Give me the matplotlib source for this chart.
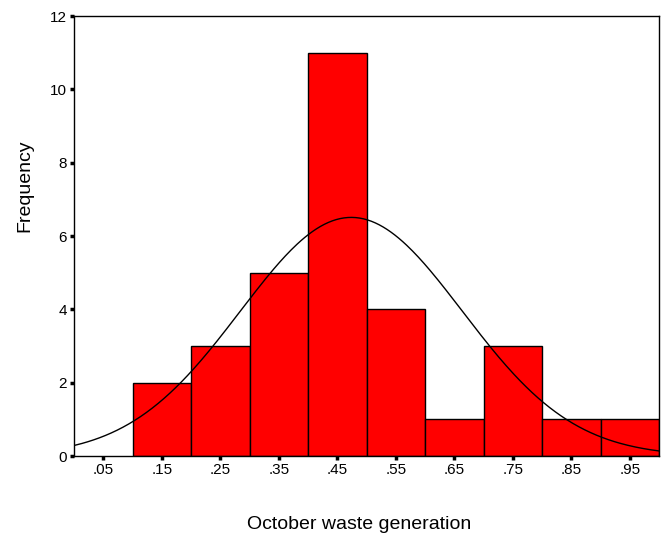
import numpy as np
import matplotlib.pyplot as plt

plt.rcParams['font.family'] = ['Liberation Sans', 'DejaVu Sans']

# histogram data
bin_edges = [0.1, 0.2, 0.3, 0.4, 0.5, 0.6, 0.7, 0.8, 0.9, 1.0]
counts = [2, 3, 5, 11, 4, 1, 3, 1, 1]
tick_pos = [0.05, 0.15, 0.25, 0.35, 0.45, 0.55, 0.65, 0.75, 0.85, 0.95]
tick_labels = ['.05', '.15', '.25', '.35', '.45', '.55', '.65', '.75', '.85', '.95']

# normal curve parameters
mean = 0.474
std = 0.19
bin_width = 0.1
n = sum(counts)

fig = plt.figure(figsize=(6.67, 5.43), dpi=100)
ax = fig.add_axes([0.111, 0.160, 0.877, 0.8105])

ax.bar(bin_edges[:-1], counts, width=np.diff(bin_edges), align='edge',
       color='#ff0000', edgecolor='black', linewidth=1.0)

x = np.linspace(0, 1, 300)
y = n * bin_width / (std * np.sqrt(2 * np.pi)) * np.exp(-0.5 * ((x - mean) / std) ** 2)
ax.plot(x, y, color='black', linewidth=1.0)

ax.set_xlim(0, 1)
ax.set_ylim(0, 12)
ax.set_xticks(tick_pos)
ax.set_xticklabels(tick_labels)
ax.set_yticks(range(0, 13, 2))
ax.tick_params(axis='both', direction='out', length=3, width=2.5, labelsize=11, pad=2)
for s in ax.spines.values():
    s.set_linewidth(1.0)

ax.set_xlabel('October waste generation', fontsize=14)
ax.set_ylabel('Frequency', fontsize=14)
ax.xaxis.set_label_coords(0.487, -0.135)
ax.yaxis.set_label_coords(-0.07, 0.614)

fig.savefig('out.png', dpi=100)
